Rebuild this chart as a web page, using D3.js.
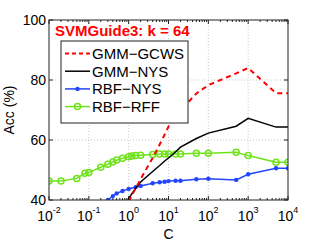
<!DOCTYPE html>
<html>
<head>
<meta charset="utf-8">
<script src="https://cdn.jsdelivr.net/npm/d3@7"></script>
<style>
  body { margin: 0; background: #fff; }
  text { font-family: "Liberation Sans", Arial, sans-serif; }
</style>
</head>
<body>
<div id="main"></div>
<script>
// values
var gcwsC   = [1, 2, 4, 6, 8, 10, 15, 20, 50, 100, 500, 1000, 5000, 10000];
var gcwsAcc = [39.5, 47, 54, 58.5, 61.8, 64.5, 67.5, 69.8, 75.5, 78.3, 82.2, 84, 75.6, 75.6];

var nysC    = [0.8, 1, 1.5, 2, 4, 6, 8, 10, 15, 20, 50, 100, 500, 1000, 5000, 10000];
var nysAcc  = [37, 40.5, 44, 46, 49.5, 51.5, 53, 54, 56, 57.6, 60.5, 62.3, 64.6, 67.2, 64.3, 64.3];

var rbfNysC   = [0.3, 0.4, 0.5, 0.7, 1, 1.5, 2, 4, 6, 8, 10, 15, 20, 50, 100, 500, 1000, 5000, 10000];
var rbfNysAcc = [40, 41.3, 42.2, 43, 43.7, 44.3, 44.7, 45.6, 45.9, 46.1, 46.3, 46.4, 46.4, 46.9, 47.1, 46.7, 48.6, 50.6, 50.6];

var rffC   = [0.01, 0.02, 0.05, 0.08, 0.1, 0.2, 0.3, 0.4, 0.5, 0.7, 1, 1.2, 1.5, 2, 4, 6, 8, 10, 15, 20, 50, 100, 500, 1000, 5000, 10000];
var rffAcc = [46.3, 46.3, 47.2, 48.9, 49.2, 50.9, 51.9, 52.7, 53.3, 53.9, 54.4, 54.7, 54.8, 54.9, 55.2, 55.3, 55.3, 55.3, 55.3, 55.3, 55.6, 55.6, 55.9, 54.8, 52.6, 52.6];

var xTicks = [-2, -1, 0, 1, 2, 3, 4];
var yTicks = [40, 60, 80, 100];
var legendNames = ['GMM\u2212GCWS', 'GMM\u2212NYS', 'RBF\u2212NYS', 'RBF\u2212RFF'];
var title = 'SVMGuide3: k = 64';

var W = 319, H = 240;
var m = {left: 49, top: 20, right: 31, bottom: 40};
var iw = W - m.left - m.right, ih = H - m.top - m.bottom;

var svg = d3.select('#main').append('svg').attr('width', W).attr('height', H);

var x = d3.scaleLog().domain([1e-2, 1e4]).range([0, iw]);
var y = d3.scaleLinear().domain([40, 100]).range([ih, 0]);

var g = svg.append('g').attr('transform', 'translate(' + m.left + ',' + m.top + ')');

g.append('clipPath').attr('id', 'clip')
  .append('rect').attr('width', iw).attr('height', ih);

// grid
g.selectAll('.gx').data(xTicks.slice(1, -1)).enter().append('line')
  .attr('x1', d => x(Math.pow(10, d))).attr('x2', d => x(Math.pow(10, d)))
  .attr('y1', 0).attr('y2', ih)
  .attr('stroke', '#bbb').attr('stroke-width', 0.8).attr('stroke-dasharray', '1,2');
g.selectAll('.gy').data(yTicks.slice(1, -1)).enter().append('line')
  .attr('y1', d => y(d)).attr('y2', d => y(d))
  .attr('x1', 0).attr('x2', iw)
  .attr('stroke', '#bbb').attr('stroke-width', 0.8).attr('stroke-dasharray', '1,2');

// axes with inward ticks, top/right mirrored
var minor = [];
for (var e = -2; e < 4; e++) for (var k = 2; k < 10; k++) minor.push(k * Math.pow(10, e));

function xTicksAt(yy, dir) {
  g.selectAll(null).data(xTicks).enter().append('line')
    .attr('x1', d => x(Math.pow(10, d))).attr('x2', d => x(Math.pow(10, d)))
    .attr('y1', yy).attr('y2', yy + dir * 4).attr('stroke', '#222');
  g.selectAll(null).data(minor).enter().append('line')
    .attr('x1', d => x(d)).attr('x2', d => x(d))
    .attr('y1', yy).attr('y2', yy + dir * 2).attr('stroke', '#222');
}
xTicksAt(ih, -1);
xTicksAt(0, 1);
g.selectAll(null).data(yTicks).enter().append('line')
  .attr('x1', 0).attr('x2', 4).attr('y1', d => y(d)).attr('y2', d => y(d)).attr('stroke', '#222');
g.selectAll(null).data(yTicks).enter().append('line')
  .attr('x1', iw).attr('x2', iw - 4).attr('y1', d => y(d)).attr('y2', d => y(d)).attr('stroke', '#222');

// tick labels
g.selectAll(null).data(yTicks).enter().append('text')
  .attr('x', -3).attr('y', d => y(d)).attr('dy', '0.36em')
  .attr('text-anchor', 'end').attr('font-size', 14).text(d => d);

var xl = g.selectAll(null).data(xTicks).enter().append('text')
  .attr('x', d => x(Math.pow(10, d))).attr('y', ih + 21)
  .attr('text-anchor', 'middle').attr('font-size', 14);
xl.append('tspan').text('10');
xl.append('tspan').attr('dy', -8).attr('font-size', 9).text(d => d);

g.append('text').attr('x', iw / 2).attr('y', ih + 38.5).attr('text-anchor', 'middle')
  .attr('font-size', 14).text('C');
g.append('text').attr('transform', 'translate(-35,' + (ih / 2) + ') rotate(-90)')
  .attr('text-anchor', 'middle').attr('font-size', 14).text('Acc (%)');

// series
var series = [
  {c: gcwsC, v: gcwsAcc, color: '#ff0000', dash: '5,4', w: 2, mark: null},
  {c: nysC, v: nysAcc, color: '#000000', dash: null, w: 1.5, mark: null},
  {c: rbfNysC, v: rbfNysAcc, color: '#2345ff', dash: null, w: 1.5, mark: 'dot'},
  {c: rffC, v: rffAcc, color: '#6fe31a', dash: null, w: 1.5, mark: 'circle'}
];
var line = d3.line().x(d => x(d[0])).y(d => y(d[1]));
var plot = g.append('g').attr('clip-path', 'url(#clip)');

series.slice().reverse().forEach(function (s) {
  var pts = s.c.map((c, i) => [c, s.v[i]]);
  plot.append('path').datum(pts).attr('d', line)
    .attr('fill', 'none').attr('stroke', s.color).attr('stroke-width', s.w)
    .attr('stroke-dasharray', s.dash);
  if (s.mark === 'dot') {
    plot.selectAll(null).data(pts).enter().append('circle')
      .attr('cx', d => x(d[0])).attr('cy', d => y(d[1])).attr('r', 2.2).attr('fill', s.color);
  } else if (s.mark === 'circle') {
    plot.selectAll(null).data(pts).enter().append('circle')
      .attr('cx', d => x(d[0])).attr('cy', d => y(d[1])).attr('r', 3)
      .attr('fill', 'none').attr('stroke', s.color).attr('stroke-width', 1.5);
  }
});

// box
g.append('rect').attr('width', iw).attr('height', ih)
  .attr('fill', 'none').attr('stroke', '#222').attr('stroke-width', 1);

// title
g.append('text').attr('x', 6).attr('y', 16).attr('font-size', 15)
  .attr('font-weight', 'bold').attr('fill', '#ff0000').text(title);

// legend
var lg = g.append('g').attr('transform', 'translate(12,21)');
lg.append('rect').attr('width', 127).attr('height', 82)
  .attr('fill', '#fff').attr('stroke', '#222').attr('stroke-width', 1);
legendNames.forEach(function (name, i) {
  var s = series[i], yy = 12.5 + i * 17.7;
  lg.append('line').attr('x1', 4).attr('x2', 29).attr('y1', yy).attr('y2', yy)
    .attr('stroke', s.color).attr('stroke-width', s.w).attr('stroke-dasharray', s.dash ? '4,3' : null);
  if (s.mark === 'dot') {
    lg.append('circle').attr('cx', 16.5).attr('cy', yy).attr('r', 2.2).attr('fill', s.color);
  } else if (s.mark === 'circle') {
    lg.append('circle').attr('cx', 16.5).attr('cy', yy).attr('r', 3)
      .attr('fill', 'none').attr('stroke', s.color).attr('stroke-width', 1.5);
  }
  lg.append('text').attr('x', 31).attr('y', yy).attr('dy', '0.36em')
    .attr('font-size', 15).text(name);
});
</script>
</body>
</html>
